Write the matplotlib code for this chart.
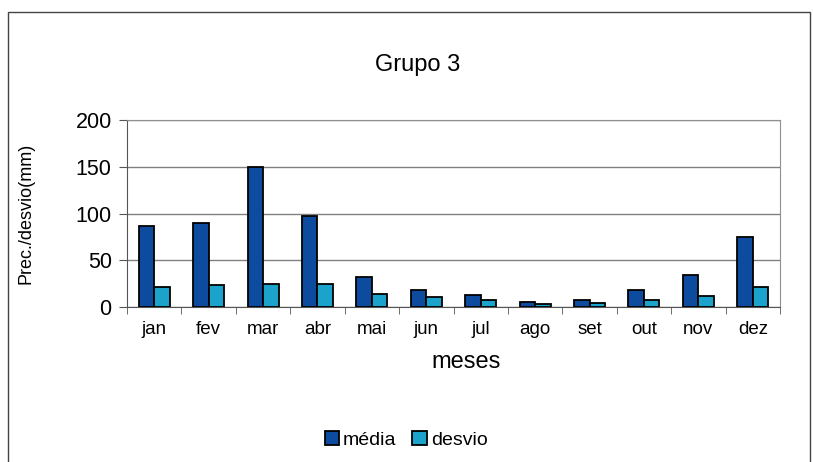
import numpy as np
import matplotlib.pyplot as plt
from matplotlib.patches import Rectangle

plt.rcParams['font.family'] = ['Liberation Sans', 'DejaVu Sans']

meses = ["jan", "fev", "mar", "abr", "mai", "jun", "jul", "ago", "set", "out", "nov", "dez"]
media = [87, 90, 150, 97, 32, 18, 13, 5, 7, 18, 34, 75]
desvio = [21, 23, 24.5, 24.5, 13.5, 11, 8, 3, 4, 7, 11.5, 21.5]
yticks = [0, 50, 100, 150, 200]

fig = plt.figure(figsize=(8.13, 4.62), dpi=100)
ax = fig.add_axes([127 / 813, 1 - 307 / 462, 653 / 813, 187 / 462])

x = np.arange(len(meses))
w = 0.285
ax.bar(x - w / 2, media, w, color="#0c4b9e", edgecolor="black", linewidth=1.3, label="média", zorder=3)
ax.bar(x + w / 2, desvio, w, color="#1ba3cc", edgecolor="black", linewidth=1.3, label="desvio", zorder=3)

ax.set_xlim(-0.5, len(meses) - 0.5)
ax.set_ylim(0, 200)
ax.set_yticks(yticks)
ax.set_yticklabels([str(v) for v in yticks], fontsize=15.5)
ax.set_xticks(x)
ax.set_xticklabels(meses, fontsize=13.5)
ax.set_xticks(np.arange(len(meses) + 1) - 0.5, minor=True)
ax.tick_params(axis="x", which="major", length=0, pad=10)
ax.tick_params(axis="x", which="minor", length=5, color="#555555")
ax.tick_params(axis="y", length=6, color="#555555", pad=5)

ax.grid(axis="y", color="#808080", linewidth=1, zorder=0)
for s in ["top", "right"]:
    ax.spines[s].set_color("#909090")
for s in ["left", "bottom"]:
    ax.spines[s].set_color("#555555")

ax.set_ylabel("Prec./desvio(mm)", fontsize=13)
ax.yaxis.set_label_coords(-0.141, 0.5)
ax.set_xlabel("meses", fontsize=17)
ax.xaxis.set_label_coords(0.52, -0.235)

fig.text(418 / 813, 1 - 65 / 462, "Grupo 3", fontsize=17, ha="center", va="center")

fig.legend(loc="center", bbox_to_anchor=(406 / 813, 1 - 440 / 462), ncol=2, frameon=False,
           fontsize=14, handlelength=0.75, handleheight=0.75, handletextpad=0.2, columnspacing=0.8)

fig.patches.append(Rectangle((8 / 813, -0.1), 802 / 813, 1.1 - 12 / 462, transform=fig.transFigure,
                             fill=False, edgecolor="#444444", linewidth=1))

plt.savefig("out.png", dpi=100)
